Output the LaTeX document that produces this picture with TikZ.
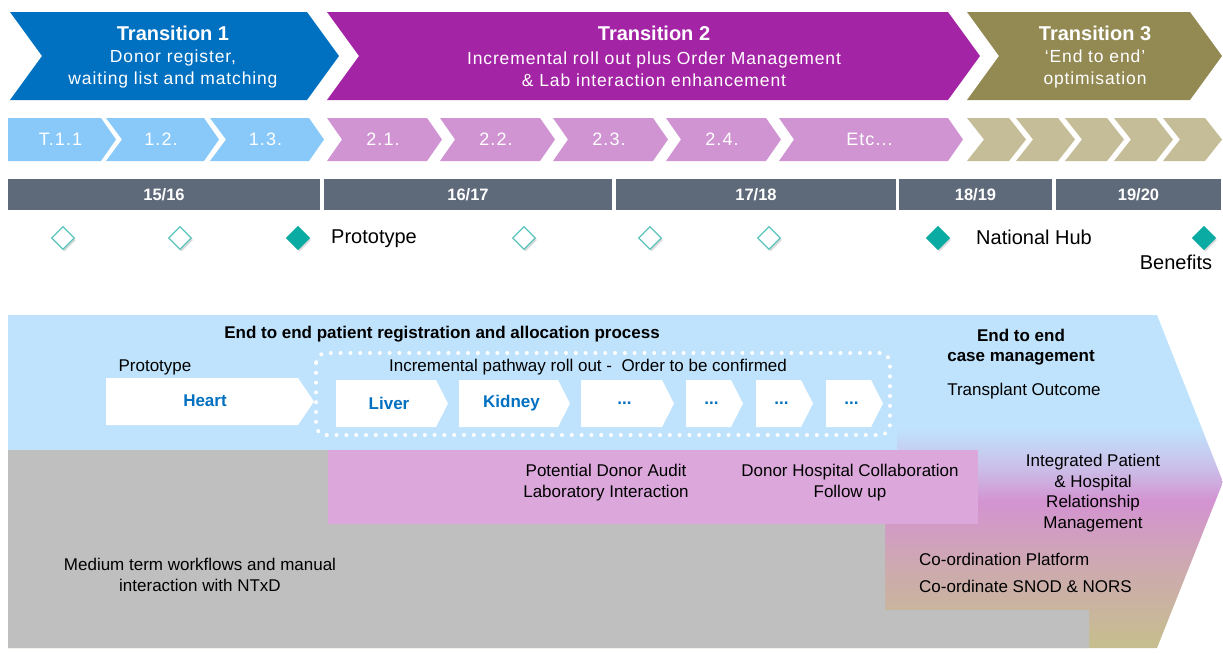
\documentclass[tikz,border=0pt]{standalone}
\usepackage{fontspec}
\setmainfont{Liberation Sans}
\usetikzlibrary{shapes.geometric,shadows}

\definecolor{trone}{HTML}{0070C0}
\definecolor{trtwo}{HTML}{A424A6}
\definecolor{trthree}{HTML}{938953}
\definecolor{phone}{HTML}{88C9F9}
\definecolor{phtwo}{HTML}{D094D2}
\definecolor{phthree}{HTML}{C5BD98}
\definecolor{yearbar}{HTML}{5E697A}
\definecolor{hub}{HTML}{0AABA2}
\definecolor{hubline}{HTML}{5CC4BD}
\definecolor{paleblue}{HTML}{BFE3FC}
\definecolor{lilac}{HTML}{DCA8DC}
\definecolor{manual}{HTML}{BFBFBF}
\definecolor{fadelav}{HTML}{CBBEE8}
\definecolor{fadepink}{HTML}{D393D1}
\definecolor{fadedust}{HTML}{CEA8B2}
\definecolor{fadetan}{HTML}{C6BD90}

\pgfdeclareverticalshading{casefade}{100bp}{color(0bp)=(fadetan); color(26bp)=(fadetan); color(38bp)=(fadedust); color(47bp)=(fadepink); color(52bp)=(fadelav); color(58bp)=(paleblue); color(100bp)=(paleblue)}

\tikzset{
  ttitle/.style={text=white, font=\bfseries\fontsize{20}{22}\selectfont},
  tsub/.style={text=white, align=center, font=\fontsize{17.5}{22}\selectfont\addfontfeature{LetterSpace=5}},
  steplabel/.style={text=white, font=\fontsize{18}{20}\selectfont\addfontfeature{LetterSpace=6}},
  yearlabel/.style={text=white, font=\bfseries\fontsize{16.5}{18}\selectfont},
  msopen/.style={diamond, draw=hubline, fill=white, line width=1.2pt, minimum size=23pt,
    drop shadow={shadow xshift=1.5pt, shadow yshift=-2pt, opacity=.3}},
  msdone/.style={msopen, draw=hub, fill=hub},
  mslabel/.style={font=\fontsize{20}{22}\selectfont},
  body/.style={align=center, font=\fontsize{17}{20.5}\selectfont},
  bodybold/.style={body, font=\bfseries\fontsize{17}{20.5}\selectfont},
  organ/.style={text=trone, font=\bfseries\fontsize{17}{20}\selectfont}
}

\begin{document}
\begin{tikzpicture}[x=1pt, y=-1pt, inner sep=0pt]
    \useasboundingbox (0,0) rectangle (1223,653);

    % Transitions
    \foreach \xa/\xb/\col in {10/307/trone, 327/948/trtwo, 967/1190/trthree}
        \fill[\col] (\xa,12) -- (\xb,12) -- (\xb+32,56) -- (\xb,100) -- (\xa,100) -- (\xa+32,56) -- cycle;

    \node[ttitle] (tr1) at (173,33) {Transition 1};
    \node[tsub] (tr1sub) at (173,69) {Donor register,\\waiting list and matching};
    \node[ttitle] (tr2) at (654,33) {Transition 2};
    \node[tsub] (tr2sub) at (654,69) {Incremental roll out plus Order Management\\\& Lab interaction enhancement};
    \node[ttitle] (tr3) at (1095,33) {Transition 3};
    \node[tsub] (tr3sub) at (1095,69) {‘End to end’\\optimisation};

    % Phases
    \foreach \xa/\xb/\nt/\col/\lab [count=\i] in {8/101/0/phone/T.1.1, 106/204/16/phone/1.2., 210/309/16/phone/1.3.,
        327/427/15/phtwo/2.1., 440/540/15/phtwo/2.2., 553/653/15/phtwo/2.3., 666/766/15/phtwo/2.4., 779/948/15/phtwo/{Etc...}}
    {
        \fill[\col] (\xa,118) -- (\xb,118) -- (\xb+15,139.5) -- (\xb,161) -- (\xa,161) -- (\xa+\nt,139.5) -- cycle;
        \node[steplabel] (ph\i) at ({(\xa+\xb)/2+6},139.5) {\lab};
    }
    \foreach \xa in {967,1016,1065,1114,1163}
        \fill[phthree] (\xa,118) -- (\xa+42,118) -- (\xa+59,139.5) -- (\xa+42,161) -- (\xa,161) -- (\xa+17,139.5) -- cycle;

    % Years
    \foreach \xa/\xb/\yr [count=\i] in {8/320/{15/16}, 324/612/{16/17}, 616/896/{17/18}, 899/1052/{18/19}, 1056/1221/{19/20}}
    {
        \fill[yearbar] (\xa,179) rectangle (\xb,210);
        \node[yearlabel] (yr\i) at ({(\xa+\xb)/2},194.5) {\yr};
    }

    % Milestones
    \foreach \x [count=\i] in {63,180,524,650,769}
        \node[msopen] (ms\i) at (\x,238) {};
    \foreach \x [count=\i] in {298,938,1204}
        \node[msdone] (key\i) at (\x,238) {};
    \node[mslabel, anchor=west] (proto) at (331,239) {Prototype};
    \node[mslabel, anchor=west] (hubtxt) at (976,237) {National Hub};
    \node[mslabel] (benefits) at (1176,262) {Benefits};

    % Case management arrow and its layers
    \shade[shading=casefade] (8,315) -- (1157,315) -- (1223,482) -- (1157,648) -- (8,648) -- cycle;
    \fill[paleblue] (8,315) rectangle (897,450);
    \fill[manual] (8,450) -- (885,450) -- (885,610) -- (1089,610) -- (1089,648) -- (8,648) -- cycle;
    \fill[lilac] (328,450) rectangle (978,524);

    \draw[white, line width=4pt, line cap=round, dash pattern=on 0pt off 9.8pt, rounded corners=10pt]
        (316,353) rectangle (890,435);

    % Pathways
    \fill[white] (106,378) -- (298,378) -- (314,401.5) -- (298,425) -- (106,425) -- cycle;
    \node[organ] (heart) at (205,401) {Heart};
    \foreach \xa/\xb/\lab [count=\i] in {336/436/Liver, 459/558/Kidney, 581/662/{...}, 686/731/{...}, 756/801/{...}, 826/871/{...}}
    {
        \fill[white] (\xa,380) -- (\xb,380) -- (\xb+12,403.5) -- (\xb,427) -- (\xa,427) -- cycle;
        \node[organ] (organ\i) at ({(\xa+\xb)/2+3},403) {\lab};
    }

    \node[bodybold] (e2e) at (442,334) {End to end patient registration and allocation process};
    \node[body] (protolab) at (155,367) {Prototype};
    \node[body] (rollout) at (588,367) {Incremental pathway roll out -\ \ Order to be confirmed};
    \node[bodybold] (casemgmt) at (1021,347) {End to end\\case management};
    \node[body] (outcome) at (1024,391) {Transplant Outcome};
    \node[body] (audit) at (606,482.5) {Potential Donor Audit\\Laboratory Interaction};
    \node[body] (collab) at (850,482.5) {Donor Hospital Collaboration\\Follow up};
    \node[body] (relation) at (1093,493) {Integrated Patient\\\& Hospital\\Relationship\\Management};
    \node[body, anchor=west] (platform) at (919,559) {Co-ordination Platform};
    \node[body, anchor=west] (snod) at (919,586) {Co-ordinate SNOD \& NORS};
    \node[body] (manualtxt) at (200,575) {Medium term workflows and manual\\interaction with NTxD};
\end{tikzpicture}
\end{document}
